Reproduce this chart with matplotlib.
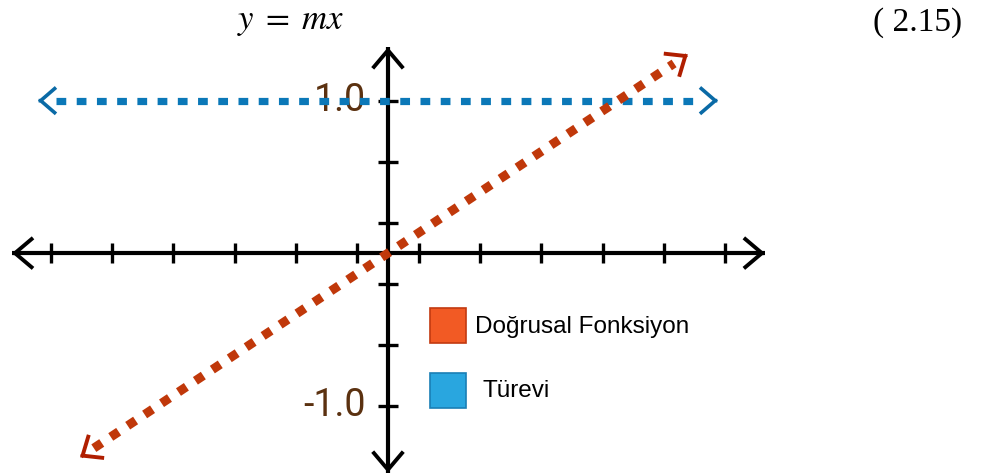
import matplotlib
matplotlib.use("Agg")
import matplotlib.pyplot as plt
from matplotlib.patches import Rectangle

# --- data -----------------------------------------------------------------
slope = 1.0                       # m in y = m x
derivative = 1.0                  # d/dx (m x) = m
function_x = [-1.339, 1.304]      # extent of the linear function
derivative_x = [-1.522, 1.435]    # extent of the derivative line
axis_x = [-1.635, 1.639]          # horizontal axis extent
axis_y = [-1.44, 1.35]            # vertical axis extent
x_ticks = [-1.467, -1.2, -0.933, -0.667, -0.4, -0.133,
           0.133, 0.4, 0.667, 0.933, 1.2, 1.467]
y_ticks = [-1.0, -0.6, -0.2, 0.2, 0.6, 1.0]
y_tick_labels = {1.0: "1.0", -1.0: "-1.0"}
legend_labels = ["Doğrusal Fonksiyon", "Türevi"]
legend_colors = ["#f25a24", "#29a6df"]
legend_edges = ["#c23a10", "#1a7fb5"]

red = "#c0380a"
red_head = "#b01e00"
blue = "#0b78b8"
blue_head = "#0a6aa6"

function_y = [slope * x for x in function_x]
derivative_y = [derivative, derivative]

# --- figure ---------------------------------------------------------------
fig = plt.figure(figsize=(9.88, 4.75), dpi=100)
ax = fig.add_axes([0, 0, 1, 1])
ax.set_xlim(-1.687, 2.609)
ax.set_ylim(-1.455, 1.66)
ax.axis("off")


def chevron(ax, tip, tail, color, lw, hl, hw, z):
    ax.annotate("", xy=tip, xytext=tail,
                arrowprops=dict(arrowstyle=f"->,head_length={hl},head_width={hw}",
                                color=color, lw=lw, mutation_scale=1,
                                shrinkA=0, shrinkB=0,
                                joinstyle="miter", capstyle="butt"),
                zorder=z)


# axes lines
ax.plot(axis_x, [0, 0], color="black", lw=3.0, solid_capstyle="butt", zorder=2)
ax.plot([0, 0], axis_y, color="black", lw=3.0, solid_capstyle="butt", zorder=2)
chevron(ax, (axis_x[0], 0), (axis_x[0] + 0.005, 0), "black", 2.8, 13, 11, 3)
chevron(ax, (axis_x[1], 0), (axis_x[1] - 0.005, 0), "black", 2.8, 13, 11, 3)
chevron(ax, (0, axis_y[1]), (0, axis_y[1] - 0.01), "black", 2.8, 13, 11, 3)
chevron(ax, (0, axis_y[0]), (0, axis_y[0] + 0.01), "black", 2.8, 13, 11, 3)

# tick marks
ax.plot(x_ticks, [0] * len(x_ticks), ls="none", marker="|", ms=15,
        mew=2.4, color="black", zorder=3)
ax.plot([0] * len(y_ticks), y_ticks, ls="none", marker="_", ms=15,
        mew=2.4, color="black", zorder=3)

for val, lab in y_tick_labels.items():
    ax.text(-0.095, val, lab, ha="right", va="center", fontsize=27,
            family="Roboto", color="#5b3110", zorder=1)

# derivative (horizontal dotted line)
pad_d = 0.08
ax.plot([derivative_x[0] + pad_d, derivative_x[1] - pad_d], derivative_y,
        color=blue, lw=5.2, dashes=(1.35, 1.45), dash_capstyle="butt", zorder=4)
chevron(ax, (derivative_x[0], derivative), (derivative_x[0] + 0.005, derivative),
        blue_head, 2.6, 11, 9.5, 5)
chevron(ax, (derivative_x[1], derivative), (derivative_x[1] - 0.005, derivative),
        blue_head, 2.6, 11, 9.5, 5)

# linear function (diagonal dotted line)
pad_f = 0.06
ax.plot([function_x[0] + pad_f, function_x[1] - pad_f],
        [slope * (function_x[0] + pad_f), slope * (function_x[1] - pad_f)],
        color=red, lw=6.5, dashes=(1.05, 1.2), dash_capstyle="butt", zorder=6)
chevron(ax, (function_x[0], function_y[0]),
        (function_x[0] + 0.005, slope * (function_x[0] + 0.005)),
        red_head, 2.8, 12, 10, 7)
chevron(ax, (function_x[1], function_y[1]),
        (function_x[1] - 0.005, slope * (function_x[1] - 0.005)),
        red_head, 2.8, 12, 10, 7)

# legend
legend_pos = [(0.435, 0.278, 0.312), (0.435, 0.141, 0.177)]
text_x = [0.481, 0.488]
for (x0, y0, ty), tx, lab, fc, ec in zip(legend_pos, text_x, legend_labels,
                                         legend_colors, legend_edges):
    ax.add_patch(Rectangle((x0, y0), 0.0364, 0.0737, transform=ax.transAxes,
                           facecolor=fc, edgecolor=ec, lw=1.2, zorder=8))
    ax.text(tx, ty, lab, transform=ax.transAxes, ha="left", va="center",
            fontsize=17.5, family="Liberation Sans", color="black", zorder=8)

# equation and its number
plt.rcParams["mathtext.fontset"] = "stix"
fig.text(0.294, 0.955, r"$y\;=\;mx$", ha="center", va="center", fontsize=25)
fig.text(0.9285, 0.953, "( 2.15)", ha="center", va="center", fontsize=24,
         family="Liberation Serif")

fig.savefig("out.png", dpi=100)
